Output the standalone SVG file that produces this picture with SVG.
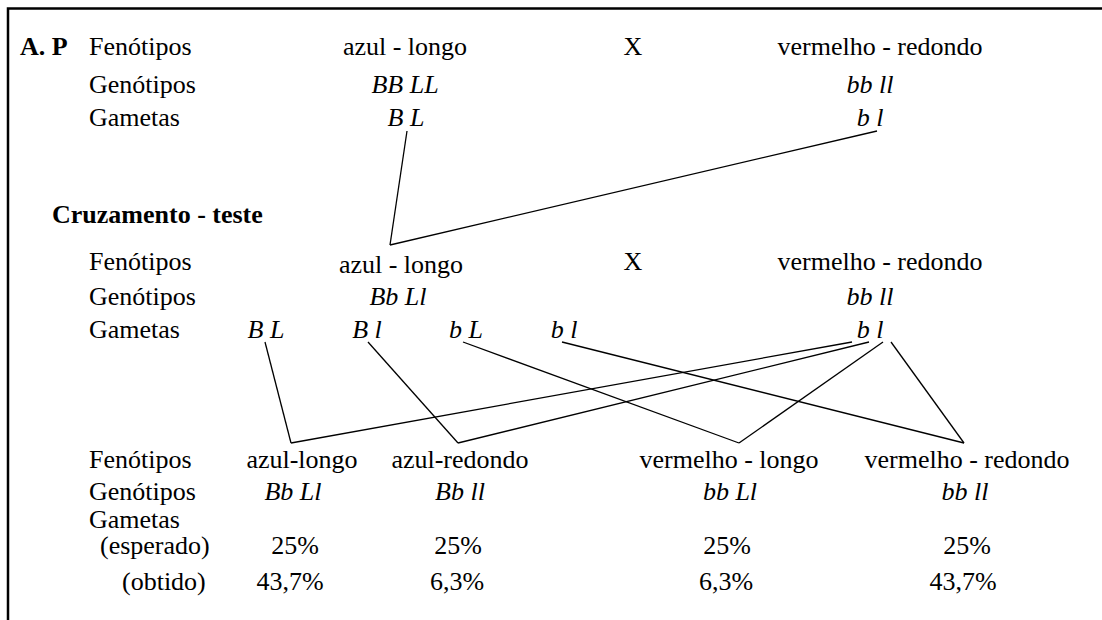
<svg xmlns="http://www.w3.org/2000/svg" width="1102" height="620" viewBox="0 0 1102 620" font-family="'Liberation Serif', 'Times New Roman', 'DejaVu Serif', serif">
<style>
text{font-family:'Liberation Serif','Times New Roman','DejaVu Serif',serif;font-size:26px;fill:#000}
.b{font-weight:bold}
.i{font-style:italic}
.m{text-anchor:middle}
.c line{stroke:#000;stroke-width:1.3;fill:none}
.frame{stroke:#000;stroke-width:2.5;fill:none}
</style>
<rect width="1102" height="620" fill="#fff"/>
<path class="frame" d="M8,620 V8.5 H1102"/>
<g id="parental">
<text x="20" y="55" class="b">A. P</text>
<text x="89" y="55">Fenótipos</text>
<text x="89" y="93">Genótipos</text>
<text x="89" y="126">Gametas</text>
</g>
<g id="p1">
<text x="405" y="55" class="m">azul - longo</text>
<text x="405" y="93" class="m i">BB LL</text>
<text x="406" y="126" class="m i">B L</text>
</g>
<text x="633" y="55" class="m">X</text>
<g id="p2">
<text x="880" y="55" class="m">vermelho - redondo</text>
<text x="870" y="93" class="m i">bb ll</text>
<text x="870" y="126" class="m i">b l</text>
</g>
<g id="testcross">
<text x="52" y="223" class="b">Cruzamento - teste</text>
<text x="89" y="270">Fenótipos</text>
<text x="89" y="305">Genótipos</text>
<text x="89" y="338">Gametas</text>
</g>
<g id="f1">
<text x="401" y="273" class="m">azul - longo</text>
<text x="398" y="305" class="m i">Bb Ll</text>
<text x="266" y="338" class="m i">B L</text>
<text x="367" y="338" class="m i">B l</text>
<text x="466" y="338" class="m i">b L</text>
<text x="564" y="338" class="m i">b l</text>
</g>
<text x="633" y="270" class="m">X</text>
<g id="recessive">
<text x="880" y="270" class="m">vermelho - redondo</text>
<text x="870" y="305" class="m i">bb ll</text>
<text x="870" y="338" class="m i">b l</text>
</g>
<g id="labels">
<text x="89" y="468">Fenótipos</text>
<text x="89" y="500">Genótipos</text>
<text x="89" y="528">Gametas</text>
<text x="100" y="554">(esperado)</text>
<text x="122" y="590">(obtido)</text>
</g>
<g id="o1">
<text x="302" y="468" class="m">azul-longo</text>
<text x="293" y="500" class="m i">Bb Ll</text>
<text x="295" y="554" class="m">25%</text>
<text x="290" y="590" class="m">43,7%</text>
</g>
<g id="o2">
<text x="460" y="468" class="m">azul-redondo</text>
<text x="460" y="500" class="m i">Bb ll</text>
<text x="458" y="554" class="m">25%</text>
<text x="457" y="590" class="m">6,3%</text>
</g>
<g id="o3">
<text x="729" y="468" class="m">vermelho - longo</text>
<text x="730" y="500" class="m i">bb Ll</text>
<text x="727" y="554" class="m">25%</text>
<text x="726" y="590" class="m">6,3%</text>
</g>
<g id="o4">
<text x="967" y="468" class="m">vermelho - redondo</text>
<text x="965" y="500" class="m i">bb ll</text>
<text x="967" y="554" class="m">25%</text>
<text x="963" y="590" class="m">43,7%</text>
</g>
<g id="connectors" class="c">
<line x1="407" y1="131" x2="390" y2="245"/>
<line x1="390" y1="245" x2="877" y2="131"/>
<line x1="265" y1="342" x2="291" y2="443"/>
<line x1="368" y1="342" x2="458" y2="443"/>
<line x1="463" y1="342" x2="739" y2="443"/>
<line x1="562" y1="342" x2="964" y2="443"/>
<line x1="852" y1="342" x2="291" y2="443"/>
<line x1="869" y1="342" x2="458" y2="443"/>
<line x1="883" y1="342" x2="739" y2="443"/>
<line x1="891" y1="342" x2="964" y2="443"/>
</g>
</svg>
